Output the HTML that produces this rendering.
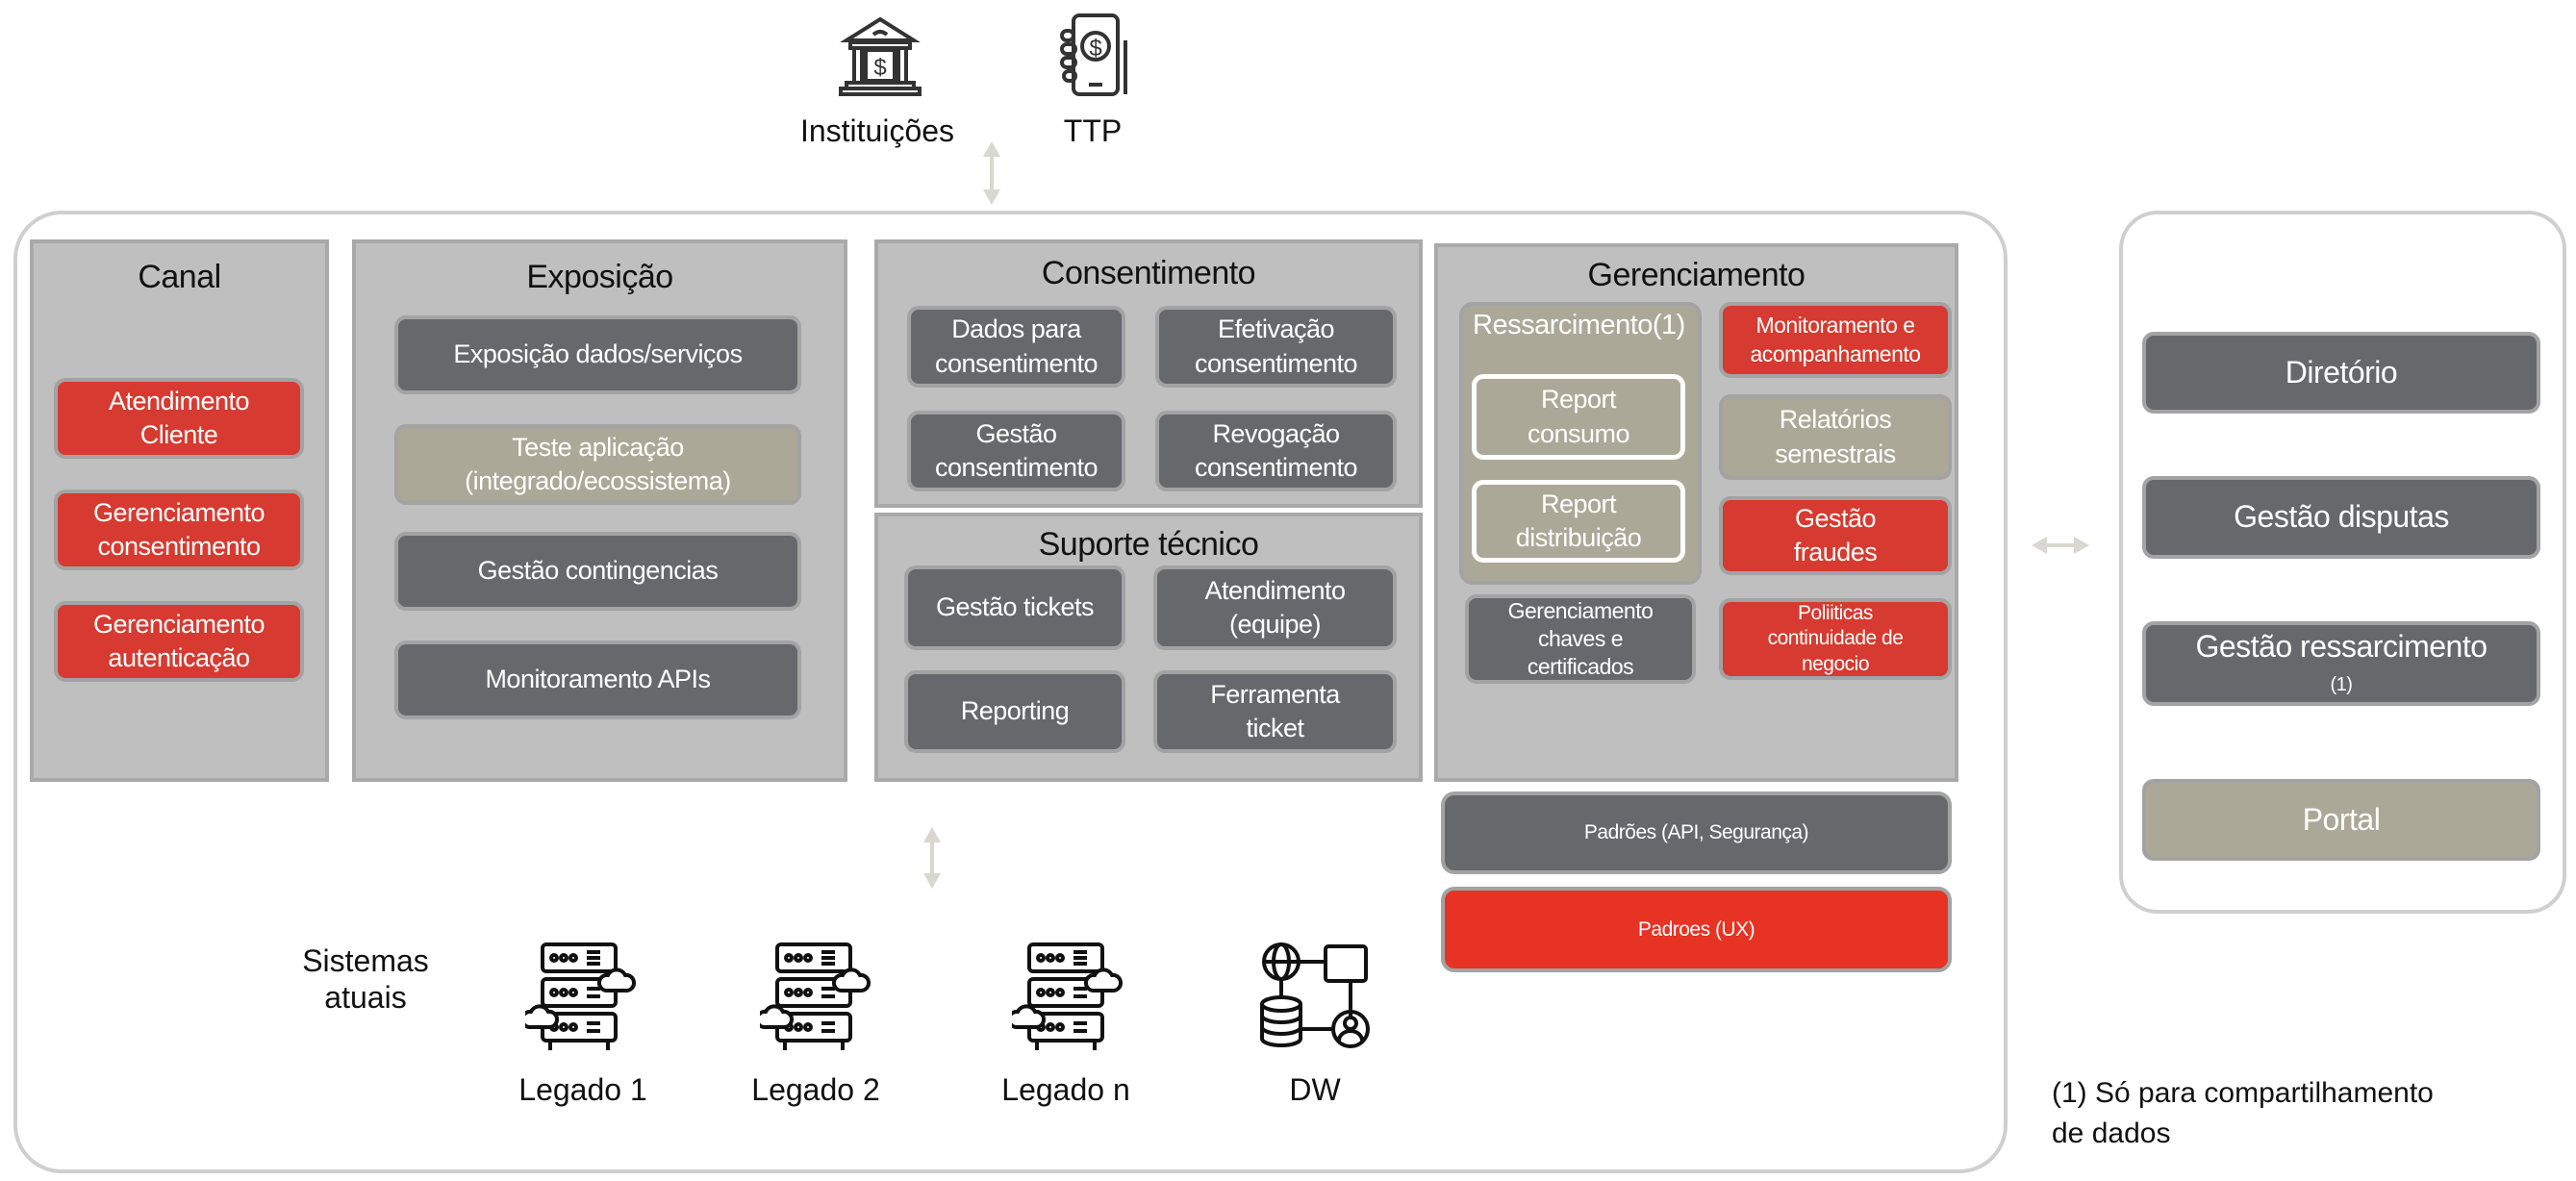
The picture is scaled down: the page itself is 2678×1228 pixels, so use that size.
<!DOCTYPE html>
<html><head><meta charset="utf-8"><style>
*{box-sizing:border-box;margin:0;padding:0}
body{width:2678px;height:1228px;background:#fff;position:relative;overflow:hidden;font-family:"Liberation Sans",Arial,sans-serif}
.a{position:absolute}
.panel{position:absolute;background:#bfbfbf;border:4px solid #a9a9a9}
.t{position:absolute;left:0;right:0;text-align:center;font-size:34px;color:#111;font-family:"Liberation Sans Narrow","Liberation Sans",sans-serif;letter-spacing:-0.5px}
.b{position:absolute;display:flex;align-items:center;justify-content:center;text-align:center;color:#fff;border-radius:12px;font-family:"Liberation Sans Narrow","Liberation Sans",sans-serif;font-size:27px;line-height:1.3;border:4px solid #a3a3a3;letter-spacing:-0.5px}
.d{background:#67686c}
.r{background:#d63a30}
.k{background:#aba898}
.lbl{position:absolute;font-size:32px;color:#111;text-align:center}
</style></head><body>
<div class="a" style="left:14px;top:219px;width:2073px;height:1001px;border:4px solid #cfcfcf;border-radius:50px"></div>
<div class="a" style="left:2203px;top:219px;width:465px;height:731px;border:4px solid #cfcfcf;border-radius:40px"></div>

<svg class="a" style="left:870px;top:12px" width="90" height="90" viewBox="0 0 90 90" fill="none" stroke="#333" stroke-width="4">
<path d="M10 30 L45 8 L80 30 Z"/><path d="M38 24 q7-6 14 0"/><rect x="14" y="32" width="62" height="6"/><rect x="18" y="38" width="8" height="36"/><rect x="64" y="38" width="8" height="36"/><rect x="30" y="40" width="30" height="32"/><text x="45" y="66" font-size="24" fill="#333" stroke="none" text-anchor="middle" font-family="Liberation Sans">$</text><rect x="10" y="74" width="70" height="6"/><rect x="4" y="80" width="82" height="6"/></svg>
<svg class="a" style="left:1100px;top:12px" width="80" height="90" viewBox="0 0 80 90" fill="none" stroke="#333" stroke-width="4">
<rect x="16" y="4" width="46" height="82" rx="6"/><circle cx="39" cy="36" r="14"/><text x="39" y="46" font-size="24" fill="#333" stroke="none" text-anchor="middle" font-family="Liberation Sans">$</text><path d="M70 30 V86"/><rect x="4" y="20" width="12" height="10" rx="5"/><rect x="4" y="34" width="14" height="10" rx="5"/><rect x="4" y="48" width="14" height="10" rx="5"/><rect x="6" y="62" width="12" height="10" rx="5"/><path d="M32 76 h14"/></svg>
<div class="lbl" style="left:812px;top:118px;width:200px">Instituições</div>
<div class="lbl" style="left:1086px;top:118px;width:100px">TTP</div>

<svg class="a" style="left:1018px;top:145px" width="26" height="70"><path d="M13 6 V64" stroke="#d8d8d0" stroke-width="4"/><path d="M4 18 L13 2 L22 18Z M4 52 L13 68 L22 52Z" fill="#d8d8d0"/></svg>
<svg class="a" style="left:956px;top:858px" width="26" height="68"><path d="M13 6 V62" stroke="#d8d8d0" stroke-width="4"/><path d="M4 18 L13 2 L22 18Z M4 50 L13 66 L22 50Z" fill="#d8d8d0"/></svg>
<svg class="a" style="left:2110px;top:555px" width="64" height="24"><path d="M6 12 H58" stroke="#d8d8d0" stroke-width="4"/><path d="M18 3 L2 12 L18 21Z M46 3 L62 12 L46 21Z" fill="#d8d8d0"/></svg>

<div class="panel" style="left:31px;top:249px;width:311px;height:564px"><div class="t" style="top:16px">Canal</div></div>
<div class="b r" style="left:56px;top:393px;width:260px;height:84px">Atendimento<br>Cliente</div>
<div class="b r" style="left:56px;top:509px;width:260px;height:84px">Gerenciamento<br>consentimento</div>
<div class="b r" style="left:56px;top:625px;width:260px;height:84px">Gerenciamento<br>autenticação</div>

<div class="panel" style="left:366px;top:249px;width:515px;height:564px"><div class="t" style="top:16px">Exposição</div></div>
<div class="b d" style="left:410px;top:328px;width:423px;height:82px">Exposição dados/serviços</div>
<div class="b k" style="left:410px;top:441px;width:423px;height:84px">Teste aplicação<br>(integrado/ecossistema)</div>
<div class="b d" style="left:410px;top:553px;width:423px;height:82px">Gestão contingencias</div>
<div class="b d" style="left:410px;top:666px;width:423px;height:82px">Monitoramento APIs</div>

<div class="panel" style="left:909px;top:249px;width:570px;height:279px"><div class="t" style="top:12px">Consentimento</div></div>
<div class="b d" style="left:943px;top:318px;width:227px;height:85px">Dados para<br>consentimento</div>
<div class="b d" style="left:1201px;top:318px;width:251px;height:85px">Efetivação<br>consentimento</div>
<div class="b d" style="left:943px;top:427px;width:227px;height:84px">Gestão<br>consentimento</div>
<div class="b d" style="left:1201px;top:427px;width:251px;height:84px">Revogação<br>consentimento</div>

<div class="panel" style="left:909px;top:533px;width:570px;height:280px"><div class="t" style="top:10px">Suporte técnico</div></div>
<div class="b d" style="left:940px;top:588px;width:230px;height:88px">Gestão tickets</div>
<div class="b d" style="left:1199px;top:588px;width:253px;height:88px">Atendimento<br>(equipe)</div>
<div class="b d" style="left:940px;top:697px;width:230px;height:86px">Reporting</div>
<div class="b d" style="left:1199px;top:697px;width:253px;height:86px">Ferramenta<br>ticket</div>

<div class="panel" style="left:1491px;top:253px;width:545px;height:560px"><div class="t" style="top:10px">Gerenciamento</div></div>
<div class="a" style="left:1517px;top:314px;width:252px;height:294px;background:#aba898;border:4px solid #a3a3a3;border-radius:14px"></div>
<div class="a" style="left:1521px;top:322px;width:260px;color:#fff;font-size:29px;font-family:'Liberation Sans Narrow','Liberation Sans',sans-serif;text-align:left;padding-left:10px;letter-spacing:-0.5px">Ressarcimento(1)</div>
<div class="b k" style="left:1530px;top:389px;width:222px;height:89px;border:5px solid #fff">Report<br>consumo</div>
<div class="b k" style="left:1530px;top:499px;width:222px;height:86px;border:5px solid #fff">Report<br>distribuição</div>
<div class="b d" style="left:1523px;top:618px;width:240px;height:93px;font-size:23px;line-height:1.25">Gerenciamento<br>chaves e<br>certificados</div>
<div class="b r" style="left:1787px;top:314px;width:242px;height:79px;font-size:23px">Monitoramento e<br>acompanhamento</div>
<div class="b k" style="left:1787px;top:410px;width:242px;height:89px">Relatórios<br>semestrais</div>
<div class="b r" style="left:1787px;top:516px;width:242px;height:82px">Gestão<br>fraudes</div>
<div class="b r" style="left:1787px;top:622px;width:242px;height:85px;font-size:21px;line-height:1.25">Poliiticas<br>continuidade de<br>negocio</div>

<div class="b d" style="left:1498px;top:823px;width:531px;height:86px;font-size:21px;border-radius:14px">Padrões (API, Segurança)</div>
<div class="b" style="left:1498px;top:922px;width:531px;height:89px;font-size:21px;background:#e63323;border-radius:14px">Padroes (UX)</div>

<div class="b d" style="left:2227px;top:345px;width:414px;height:85px;font-size:32px;font-family:'Liberation Sans',sans-serif">Diretório</div>
<div class="b d" style="left:2227px;top:495px;width:414px;height:86px;font-size:32px;font-family:'Liberation Sans',sans-serif">Gestão disputas</div>
<div class="b d" style="left:2227px;top:646px;width:414px;height:88px;font-size:32px;font-family:'Liberation Sans',sans-serif;line-height:1.1"><div>Gestão ressarcimento<br><span style="font-size:20px">(1)</span></div></div>
<div class="b k" style="left:2227px;top:810px;width:414px;height:85px;font-size:32px;font-family:'Liberation Sans',sans-serif">Portal</div>

<div class="lbl" style="left:305px;top:980px;width:150px;line-height:38px">Sistemas<br>atuais</div>
<svg width="0" height="0" style="position:absolute"><defs>
<g id="srv" fill="none" stroke="#111" stroke-width="4">
<rect x="18" y="4" width="76" height="28" rx="4"/><rect x="18" y="40" width="76" height="28" rx="4"/><rect x="18" y="76" width="76" height="28" rx="4"/>
<circle cx="30" cy="18" r="3"/><circle cx="40" cy="18" r="3"/><circle cx="50" cy="18" r="3"/>
<circle cx="30" cy="54" r="3"/><circle cx="40" cy="54" r="3"/><circle cx="50" cy="54" r="3"/>
<circle cx="30" cy="90" r="3"/><circle cx="40" cy="90" r="3"/><circle cx="50" cy="90" r="3"/>
<path d="M64 12h14M64 18h14M64 24h14M64 50h14M64 58h14M64 86h14M64 94h14"/>
<path d="M26 104v10M86 104v10"/>
<path d="M84 52 a8 8 0 0 1 2-16 a10 10 0 0 1 18 0 a8 8 0 0 1 2 16z" fill="#fff"/>
<path d="M4 90 a8 8 0 0 1 2-16 a10 10 0 0 1 18 0 a8 8 0 0 1 2 16z" fill="#fff"/>
</g></defs></svg>
<svg class="a" style="left:546px;top:978px" width="116" height="120"><use href="#srv"/></svg>
<svg class="a" style="left:790px;top:978px" width="116" height="120"><use href="#srv"/></svg>
<svg class="a" style="left:1052px;top:978px" width="116" height="120"><use href="#srv"/></svg>
<svg class="a" style="left:1310px;top:978px" width="116" height="116" viewBox="0 0 116 116" fill="none" stroke="#111" stroke-width="4">
<circle cx="22" cy="22" r="18"/><ellipse cx="22" cy="22" rx="8" ry="18"/><path d="M4 22h36"/>
<rect x="68" y="6" width="42" height="36" rx="3"/><path d="M40 22h28M22 40v20M94 42v40"/>
<ellipse cx="22" cy="66" rx="20" ry="7"/><path d="M2 66v36a20 7 0 0 0 40 0V66M2 78a20 7 0 0 0 40 0M2 90a20 7 0 0 0 40 0"/>
<circle cx="94" cy="92" r="18"/><circle cx="94" cy="86" r="6"/><path d="M82 104a12 10 0 0 1 24 0"/><path d="M42 92h34"/></svg>
<div class="lbl" style="left:506px;top:1115px;width:200px">Legado 1</div>
<div class="lbl" style="left:748px;top:1115px;width:200px">Legado 2</div>
<div class="lbl" style="left:1008px;top:1115px;width:200px">Legado n</div>
<div class="lbl" style="left:1282px;top:1115px;width:170px">DW</div>
<div class="a" style="left:2133px;top:1116px;font-size:30px;color:#111;line-height:42px">(1) Só para compartilhamento<br>de dados</div>
</body></html>
